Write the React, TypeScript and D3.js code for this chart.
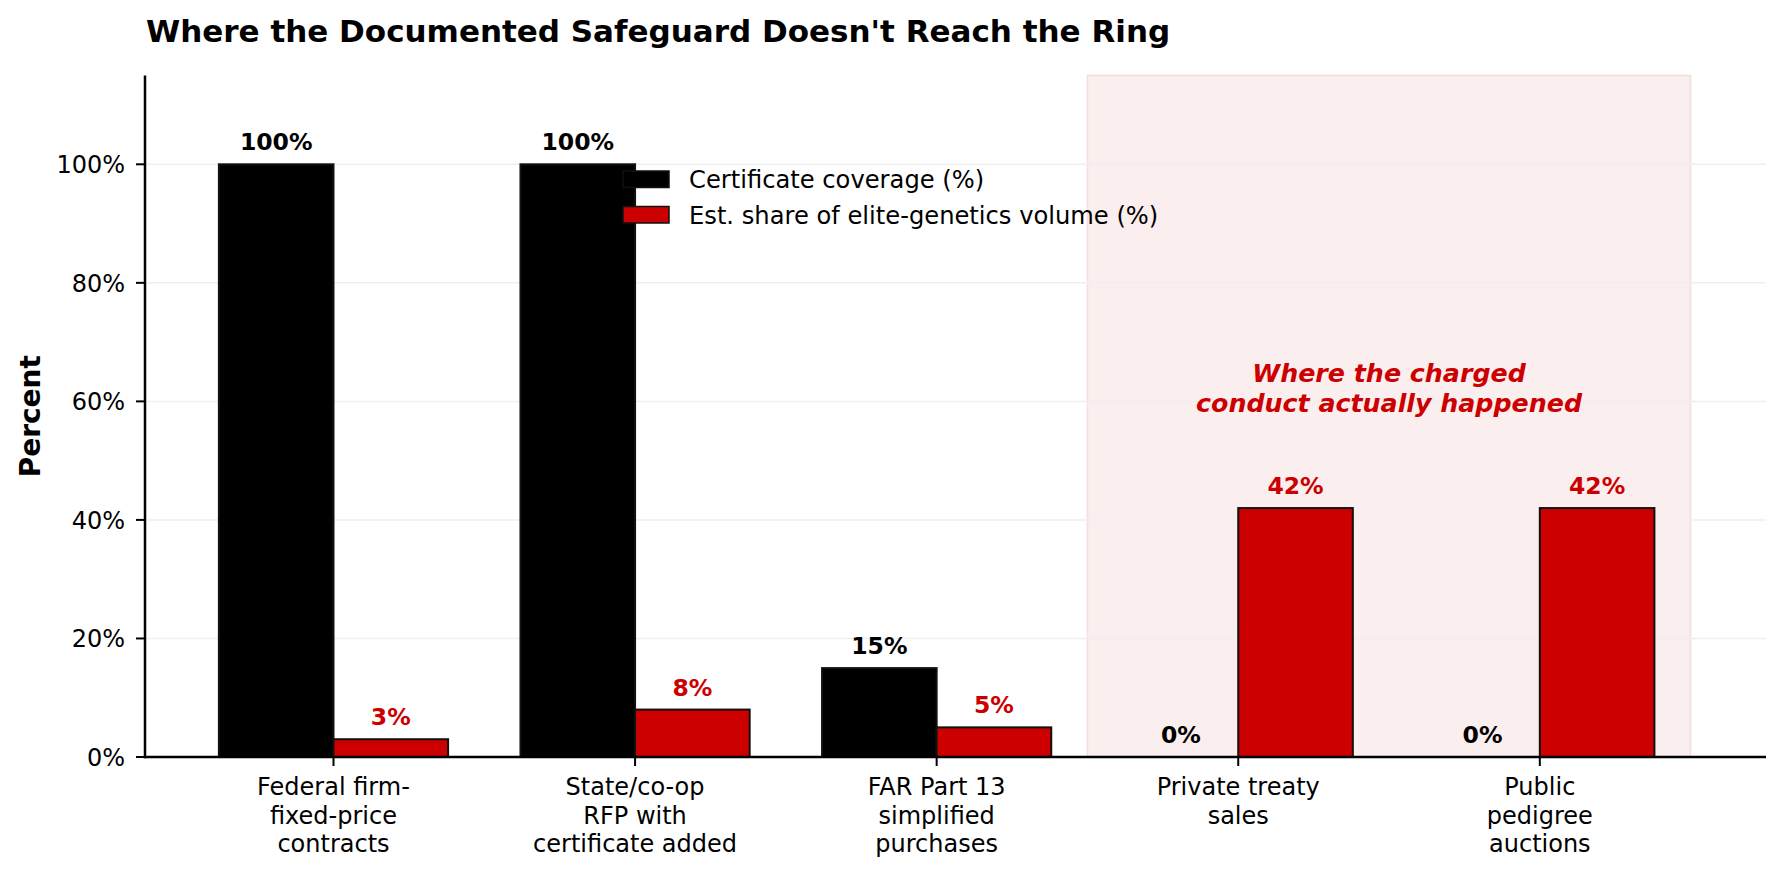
import React from "react";
import * as d3 from "d3";

const categories: string[][] = [
  ["Federal firm-", "fixed-price", "contracts"],
  ["State/co-op", "RFP with", "certificate added"],
  ["FAR Part 13", "simplified", "purchases"],
  ["Private treaty", "sales"],
  ["Public", "pedigree", "auctions"],
];
const coverage = [100, 100, 15, 0, 0];
const share = [3, 8, 5, 42, 42];
const yTicks = [0, 20, 40, 60, 80, 100];
const seriesNames = ["Certificate coverage (%)", "Est. share of elite-genetics volume (%)"];
const title = "Where the Documented Safeguard Doesn't Reach the Ring";
const annotation = ["Where the charged", "conduct actually happened"];

const W = 1782;
const H = 878;
const FONT = "'DejaVu Sans', sans-serif";
const RED = "#cc0000";
const BLACK = "#000000";
const EDGE = "#111111";

export default function App() {
  const x = d3.scaleLinear().domain([-0.625, 4.75]).range([145, 1766]);
  const y = d3.scaleLinear().domain([0, 115]).range([757, 75.4]);
  const bw = 0.38;
  const [x0, x1] = x.range();
  const [yb, yt] = y.range();
  return (
    <svg width={W} height={H} style={{ position: "absolute", left: 0, top: 0, background: "#fff" }} fontFamily={FONT}>
      <rect x={0} y={0} width={W} height={H} fill="#fff" />
      {/* shaded span */}
      <rect x={x(2.5)} y={yt} width={x(4.5) - x(2.5)} height={yb - yt} fill="rgb(251,238,238)" stroke="rgb(247,222,222)" strokeWidth={1.5} />
      {/* grid */}
      {yTicks.filter((t) => t > 0).map((t) => (
        <line key={"g" + t} x1={x0} x2={x1} y1={y(t)} y2={y(t)} stroke="#efefef" strokeWidth={1.5} />
      ))}
      {/* bars */}
      {coverage.map((v, i) => (
        <rect key={"c" + i} x={x(i - bw)} y={y(v)} width={x(i) - x(i - bw)} height={yb - y(v)} fill={BLACK} stroke={EDGE} strokeWidth={2} />
      ))}
      {share.map((v, i) => (
        <rect key={"s" + i} x={x(i)} y={y(v)} width={x(i + bw) - x(i)} height={yb - y(v)} fill={RED} stroke={EDGE} strokeWidth={2} />
      ))}
      {/* value labels */}
      {coverage.map((v, i) => (
        <text key={"cl" + i} x={x(i - bw / 2)} y={y(v) - 14} textAnchor="middle" fontSize={23.5} fontWeight="bold" fill={BLACK}>
          {v}%
        </text>
      ))}
      {share.map((v, i) => (
        <text key={"sl" + i} x={x(i + bw / 2)} y={y(v) - 14} textAnchor="middle" fontSize={23.5} fontWeight="bold" fill={RED}>
          {v}%
        </text>
      ))}
      {/* annotation */}
      <text x={x(3.5)} y={382} textAnchor="middle" fontSize={25.3} fontWeight="bold" fontStyle="italic" fill={RED}>
        {annotation.map((l, k) => (
          <tspan key={k} x={x(3.5)} dy={k === 0 ? 0 : 29.5}>{l}</tspan>
        ))}
      </text>
      {/* axes */}
      <line x1={x0} x2={x0} y1={yt} y2={yb + 1.25} stroke="#000" strokeWidth={2.5} />
      <line x1={x0 - 1.25} x2={x1} y1={yb} y2={yb} stroke="#000" strokeWidth={2.5} />
      {yTicks.map((t) => (
        <g key={"yt" + t}>
          <line x1={x0 - 9} x2={x0} y1={y(t)} y2={y(t)} stroke="#000" strokeWidth={2} />
          <text x={x0 - 20} y={y(t) + 8.7} textAnchor="end" fontSize={24} fill="#000">{t}%</text>
        </g>
      ))}
      {categories.map((lines, i) => (
        <g key={"xt" + i}>
          <line x1={x(i)} x2={x(i)} y1={yb} y2={yb + 9} stroke="#000" strokeWidth={2} />
          <text x={x(i)} y={795} textAnchor="middle" fontSize={24} fill="#000">
            {lines.map((l, k) => (
              <tspan key={k} x={x(i)} dy={k === 0 ? 0 : 28.5}>{l}</tspan>
            ))}
          </text>
        </g>
      ))}
      {/* y label */}
      <text transform={`translate(40,${(yt + yb) / 2}) rotate(-90)`} textAnchor="middle" fontSize={28} fontWeight="bold" fill="#000">Percent</text>
      {/* title */}
      <text x={146} y={42} fontSize={31} fontWeight="bold" fill="#000">{title}</text>
      {/* legend */}
      {seriesNames.map((n, k) => (
        <g key={"lg" + k}>
          <rect x={623} y={171 + k * 35.5} width={46} height={16.5} fill={k === 0 ? BLACK : RED} stroke={EDGE} strokeWidth={1.5} />
          <text x={689} y={179.5 + k * 35.5 + 8.5} fontSize={24.2} fill="#000">{n}</text>
        </g>
      ))}
    </svg>
  );
}
